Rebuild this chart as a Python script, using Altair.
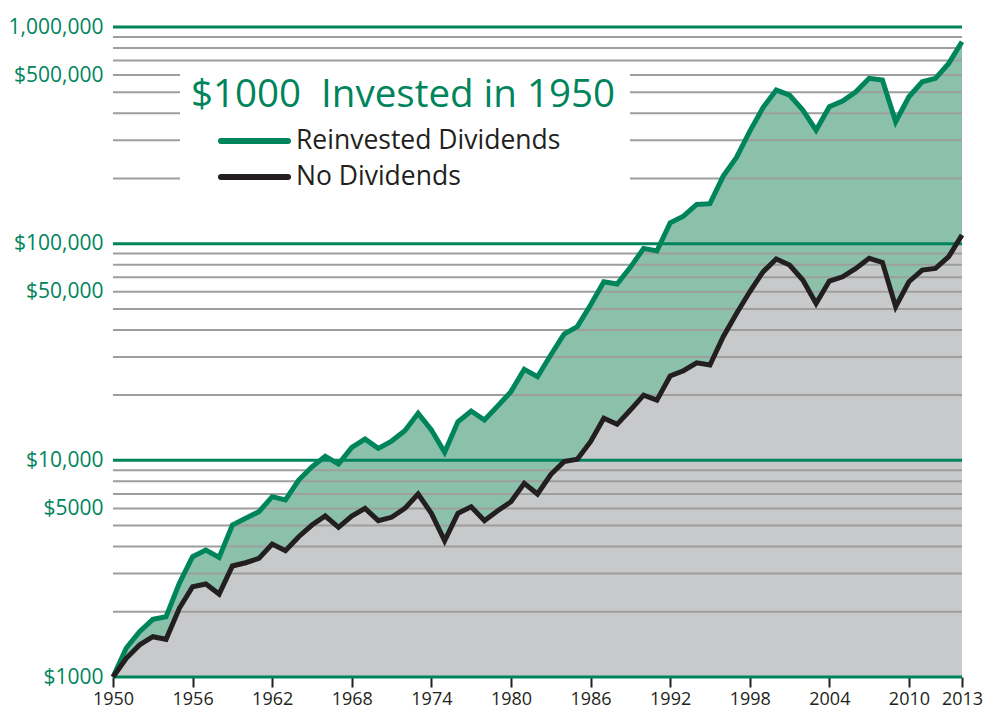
import altair as alt
import pandas as pd

# Time points: start of 1950 (initial $1000) then each year-end through 2013
t_points = list(range(1950, 2015))

reinvested = [1000, 1361, 1618, 1846, 1897, 2706, 3590, 3855, 3567, 5028,
              5400, 5796, 6796, 6561, 8110, 9340, 10450, 9611, 11480, 12530,
              11360, 12270, 13700, 16480, 13800, 10890, 15070, 16890, 15350, 17810,
              20750, 26300, 24320, 30620, 38270, 41390, 52120, 66720, 65140, 77770,
              95100, 92500, 124800, 134000, 151800, 153000, 205000, 250000, 330000, 425000,
              511600, 485000, 413400, 334000, 428300, 454900, 502500, 579400, 568800, 365300,
              476500, 558500, 579400, 679000, 855000]

no_dividends = [1000, 1220, 1405, 1535, 1493, 2075, 2610, 2686, 2415, 3253,
                3368, 3529, 4111, 3828, 4440, 5028, 5534, 4909, 5534, 6000,
                5265, 5458, 6000, 6990, 5694, 4256, 5694, 6109, 5265, 5853,
                6440, 7830, 6990, 8600, 9860, 10110, 12190, 15630, 14660, 17060,
                20000, 18970, 24490, 25920, 28200, 27540, 37190, 47640, 59970, 74130,
                84900, 79660, 67920, 52980, 67180, 70330, 76880, 85540, 81960, 51170,
                66720, 75520, 76880, 87100, 109600]

x_tick_values = [1950, 1956, 1962, 1968, 1974, 1980, 1986, 1992, 1998, 2004, 2010, 2014]
x_tick_labels = ["1950", "1956", "1962", "1968", "1974", "1980", "1986", "1992",
                 "1998", "2004", "2010", "2013"]

y_tick_values = [1000, 6000, 10000, 60000, 100000, 600000, 1000000]
y_tick_labels = ["$1000", "$5000", "$10,000", "$50,000", "$100,000", "$500,000", "1,000,000"]

grid_minor = [2000, 3000, 4000, 5000, 6000, 7000, 8000, 9000,
              20000, 30000, 40000, 50000, 60000, 70000, 80000, 90000,
              200000, 300000, 400000, 500000, 600000, 700000, 800000, 900000]
grid_major = [1000, 10000, 100000, 1000000]

title_text = "$1000\u00a0 Invested in 1950"
legend_labels = ["Reinvested Dividends", "No Dividends"]

GREEN = "#00845b"
GREEN_FILL = "#8bc1ab"
GRAY_FILL = "#c8c9cb"
GRID = "#9e9e9e"
DARK = "#231f20"
FONT = "Open Sans"


def label_expr(values, labels):
    expr = "''"
    for v, l in reversed(list(zip(values, labels))):
        expr = f"datum.value == {v} ? '{l}' : ({expr})"
    return expr


x_axis = alt.Axis(values=x_tick_values, labelExpr=label_expr(x_tick_values, x_tick_labels),
                  grid=False, domain=False, ticks=True, tickSize=10, tickWidth=2,
                  tickColor=DARK, labelFont=FONT, labelFontSize=18, labelColor=DARK,
                  labelPadding=3, title=None, labelFlush=False, labelOverlap=False)
y_axis = alt.Axis(values=y_tick_values, labelExpr=label_expr(y_tick_values, y_tick_labels),
                  grid=False, domain=False, ticks=False, labelFont=FONT, labelFontSize=21,
                  labelColor=GREEN, labelPadding=10, title=None, labelOverlap=False)

x_scale = alt.Scale(domain=[1950, 2014], nice=False, zero=False)
y_scale = alt.Scale(type="log", domain=[1000, 1000000], nice=False)


def xenc(field):
    return alt.X(f"{field}:Q", scale=x_scale, axis=x_axis)


def yenc(field):
    return alt.Y(f"{field}:Q", scale=y_scale, axis=y_axis)


df = pd.DataFrame({"t": t_points, "reinvested": reinvested, "nodiv": no_dividends})
minor_df = pd.DataFrame({"v": grid_minor})
major_df = pd.DataFrame({"v": grid_major})
one = pd.DataFrame({"a": [0]})

area_green = alt.Chart(df).mark_area(color=GREEN_FILL, opacity=1).encode(
    x=xenc("t"), y=yenc("reinvested"), y2=alt.datum(1000))
area_gray = alt.Chart(df).mark_area(color=GRAY_FILL, opacity=1).encode(
    x=xenc("t"), y=yenc("nodiv"), y2=alt.datum(1000))

minor_rules = alt.Chart(minor_df).mark_rule(color=GRID, strokeWidth=2).encode(y=yenc("v"))
major_rules = alt.Chart(major_df).mark_rule(color=GREEN, strokeWidth=3).encode(y=yenc("v"))

white_box = alt.Chart(one).mark_rect(color="white").encode(
    x=alt.value(67), x2=alt.value(517), y=alt.value(39), y2=alt.value(173))

line_green = alt.Chart(df).mark_line(color=GREEN, strokeWidth=5).encode(
    x=xenc("t"), y=yenc("reinvested"))
line_black = alt.Chart(df).mark_line(color=DARK, strokeWidth=5).encode(
    x=xenc("t"), y=yenc("nodiv"))

title = alt.Chart(one).mark_text(text=title_text, font=FONT, fontSize=38.5, color=GREEN,
                                 align="center", baseline="middle").encode(
    x=alt.value(290), y=alt.value(68))

leg_green = alt.Chart(one).mark_rule(color=GREEN, strokeWidth=6, strokeCap="round").encode(
    x=alt.value(108), x2=alt.value(175), y=alt.value(114))
leg_black = alt.Chart(one).mark_rule(color=DARK, strokeWidth=6, strokeCap="round").encode(
    x=alt.value(108), x2=alt.value(175), y=alt.value(150))
leg_text1 = alt.Chart(one).mark_text(text=legend_labels[0], font=FONT, fontSize=26.5, color=DARK,
                                     align="left", baseline="middle").encode(
    x=alt.value(183), y=alt.value(114))
leg_text2 = alt.Chart(one).mark_text(text=legend_labels[1], font=FONT, fontSize=26.5, color=DARK,
                                     align="left", baseline="middle").encode(
    x=alt.value(183), y=alt.value(150))

chart = alt.layer(
    area_green, area_gray, minor_rules, major_rules, white_box,
    line_green, line_black, title, leg_green, leg_black, leg_text1, leg_text2
).properties(
    width=849, height=650,
    padding={"left": 105, "top": 19, "right": 30, "bottom": 36},
    autosize=alt.AutoSizeParams(type="none"),
    background="white",
).configure_view(stroke=None)

chart.save("out.html", embed_options={"renderer": "svg", "actions": False})
